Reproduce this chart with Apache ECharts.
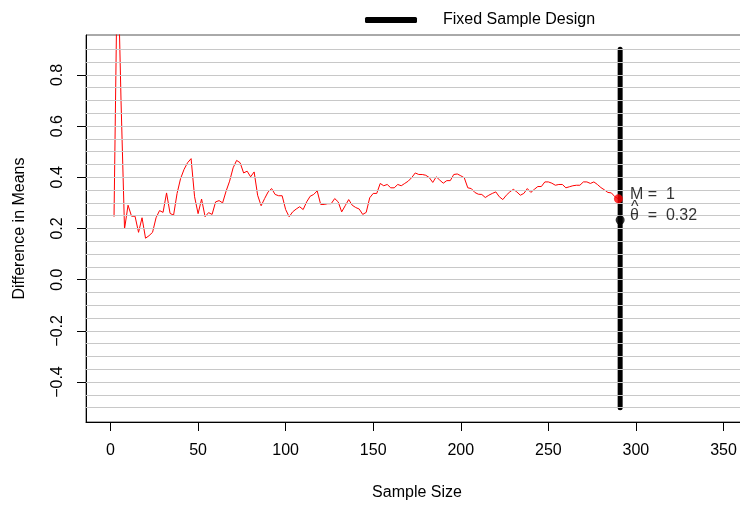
<!DOCTYPE html>
<html>
<head>
<meta charset="utf-8">
<script src="https://cdn.jsdelivr.net/npm/echarts@6/dist/echarts.min.js"></script>
<style>
html, body { margin: 0; padding: 0; background: #fff; overflow: hidden; }
#main { width: 748px; height: 506px; }
</style>
</head>
<body>
<div id="main"></div>
<script>
// running difference in means, one value per sample size
var sampleSize = [
  2, 4, 6, 8, 10, 12, 14, 16, 18, 20, 22, 24, 26, 28, 30, 32, 34, 36, 38, 40,
  42, 44, 46, 48, 50, 52, 54, 56, 58, 60, 62, 64, 66, 68, 70, 72, 74, 76, 78, 80,
  82, 84, 86, 88, 90, 92, 94, 96, 98, 100, 102, 104, 106, 108, 110, 112, 114, 116, 118, 120,
  122, 124, 126, 128, 130, 132, 134, 136, 138, 140, 142, 144, 146, 148, 150, 152, 154, 156, 158, 160,
  162, 164, 166, 168, 170, 172, 174, 176, 178, 180, 182, 184, 186, 188, 190, 192, 194, 196, 198, 200,
  202, 204, 206, 208, 210, 212, 214, 216, 218, 220, 222, 224, 226, 228, 230, 232, 234, 236, 238, 240,
  242, 244, 246, 248, 250, 252, 254, 256, 258, 260, 262, 264, 266, 268, 270, 272, 274, 276, 278, 280,
  282, 284, 286, 288, 290
];
var meanDiff = [
  0.246, 1.30, 0.70, 0.198, 0.291, 0.248, 0.248, 0.185, 0.242, 0.162,
  0.172, 0.185, 0.242, 0.270, 0.263, 0.339, 0.259, 0.252, 0.337, 0.395,
  0.431, 0.457, 0.473, 0.324, 0.258, 0.315, 0.246, 0.262, 0.255, 0.304,
  0.309, 0.300, 0.346, 0.385, 0.437, 0.466, 0.457, 0.417, 0.424, 0.402,
  0.421, 0.330, 0.289, 0.317, 0.343, 0.356, 0.333, 0.328, 0.328, 0.274,
  0.246, 0.265, 0.276, 0.285, 0.274, 0.304, 0.326, 0.333, 0.347, 0.294,
  0.294, 0.297, 0.297, 0.317, 0.304, 0.265, 0.289, 0.313, 0.291, 0.282,
  0.276, 0.255, 0.263, 0.320, 0.337, 0.337, 0.376, 0.367, 0.372, 0.359,
  0.359, 0.372, 0.367, 0.376, 0.385, 0.399, 0.417, 0.411, 0.411, 0.408,
  0.399, 0.380, 0.402, 0.389, 0.377, 0.387, 0.387, 0.411, 0.413, 0.406,
  0.398, 0.359, 0.356, 0.341, 0.334, 0.333, 0.321, 0.330, 0.337, 0.343,
  0.324, 0.313, 0.330, 0.343, 0.353, 0.343, 0.330, 0.337, 0.356, 0.341,
  0.353, 0.364, 0.364, 0.382, 0.382, 0.377, 0.369, 0.372, 0.372, 0.359,
  0.363, 0.367, 0.369, 0.369, 0.382, 0.382, 0.376, 0.382, 0.372, 0.360,
  0.351, 0.341, 0.339, 0.324, 0.316
];

// fixed sample design: final sample size and its vertical extent
var fixedN = 291;
var fixedRange = [-0.5, 0.9];
var fixedPoint = 0.233;
var thetaHat = 0.32;
var stages = 1;

var xTicks = [0, 50, 100, 150, 200, 250, 300, 350];
var yTicks = [-0.4, -0.2, 0, 0.2, 0.4, 0.6, 0.8];
var gridLevels = [
  -0.5, -0.45, -0.4, -0.35, -0.3, -0.25, -0.2, -0.15, -0.1, -0.05, 0,
  0.05, 0.1, 0.15, 0.2, 0.25, 0.3, 0.35, 0.4, 0.45, 0.5, 0.55, 0.6,
  0.65, 0.7, 0.75, 0.8, 0.85, 0.9
];

var pathData = sampleSize.map(function (n, i) { return [n, meanDiff[i]]; });
var lastIdx = sampleSize.length - 1;

var chartDom = document.getElementById('main');
var myChart = echarts.init(chartDom);
var font = 'Liberation Sans, Arial, Helvetica, sans-serif';

var option = {
  animation: false,
  textStyle: { fontFamily: font },
  legend: {
    data: ['Fixed Sample Design'],
    left: 360,
    top: 7,
    icon: 'roundRect',
    itemWidth: 52,
    itemHeight: 6,
    textStyle: { fontSize: 16, color: '#000', padding: [0, 0, 0, 21] }
  },
  grid: {
    left: 86,
    top: 35,
    right: 0,
    bottom: 82,
    show: true,
    borderColor: '#555',
    borderWidth: 1
  },
  xAxis: {
    type: 'value',
    min: -14,
    max: 364,
    name: 'Sample Size',
    nameLocation: 'middle',
    nameGap: 63,
    nameTextStyle: { fontSize: 16, color: '#000' },
    axisLine: { show: true, onZero: false, lineStyle: { color: '#000', width: 1 } },
    axisTick: { show: true, length: 9, customValues: xTicks, lineStyle: { color: '#000' } },
    axisLabel: { customValues: xTicks, fontSize: 16, color: '#000', margin: 21 },
    splitLine: { show: false }
  },
  yAxis: {
    type: 'value',
    min: -0.556,
    max: 0.956,
    name: 'Difference in Means',
    nameLocation: 'middle',
    nameGap: 58,
    nameTextStyle: { fontSize: 16, color: '#000' },
    axisLine: { show: true, onZero: false, lineStyle: { color: '#000', width: 1 } },
    axisTick: { show: true, length: 9, customValues: yTicks, lineStyle: { color: '#000' } },
    axisLabel: {
      customValues: yTicks,
      rotate: 90,
      fontSize: 16,
      color: '#000',
      margin: 20,
      formatter: function (v) {
        var s = Math.abs(v).toFixed(1);
        return v < 0 ? '\u2212' + s : s;
      }
    },
    splitLine: { show: false }
  },
  series: [
    {
      name: 'grid',
      type: 'line',
      data: [],
      z: 1,
      silent: true,
      markLine: {
        silent: true,
        symbol: 'none',
        label: { show: false },
        lineStyle: { color: '#c8c8c8', width: 1, type: 'solid' },
        data: gridLevels.map(function (v) { return { yAxis: v }; })
      }
    },
    {
      name: 'Difference',
      type: 'line',
      data: pathData,
      z: 3,
      symbol: 'none',
      lineStyle: { color: '#ff0000', width: 1 },
      clip: true
    },
    {
      name: 'Fixed Sample Design',
      type: 'line',
      data: [[fixedN, fixedRange[0]], [fixedN, fixedRange[1]]],
      z: 4,
      symbol: 'none',
      color: '#000',
      lineStyle: { color: '#000', width: 5, cap: 'round' }
    },
    {
      name: 'fixedPoint',
      type: 'scatter',
      data: [[fixedN, fixedPoint]],
      z: 5,
      symbol: 'circle',
      symbolSize: 9,
      itemStyle: { color: '#000' }
    },
    {
      name: 'current',
      type: 'scatter',
      data: [[sampleSize[lastIdx], meanDiff[lastIdx]]],
      z: 6,
      symbol: 'circle',
      symbolSize: 9,
      itemStyle: { color: '#ff0000' },
      label: {
        show: true,
        position: 'right',
        distance: 6,
        offset: [1, 4.5],
        color: '#000',
        formatter: '{m|M =  ' + stages + '}\n{h|^}\n{t|\u03B8  =  ' + thetaHat.toFixed(2) + '}',
        rich: {
          m: { fontSize: 16, lineHeight: 16, color: '#000', fontFamily: font },
          h: { fontSize: 16, lineHeight: 9, color: '#000', padding: [0, 0, 0, 1], fontFamily: font },
          t: { fontSize: 16, lineHeight: 8, color: '#000', fontFamily: font }
        }
      }
    }
  ]
};

if (chartDom && myChart) {
  myChart.setOption(option);
} else {
  console.error('Failed to initialize the chart');
}
</script>
</body>
</html>
